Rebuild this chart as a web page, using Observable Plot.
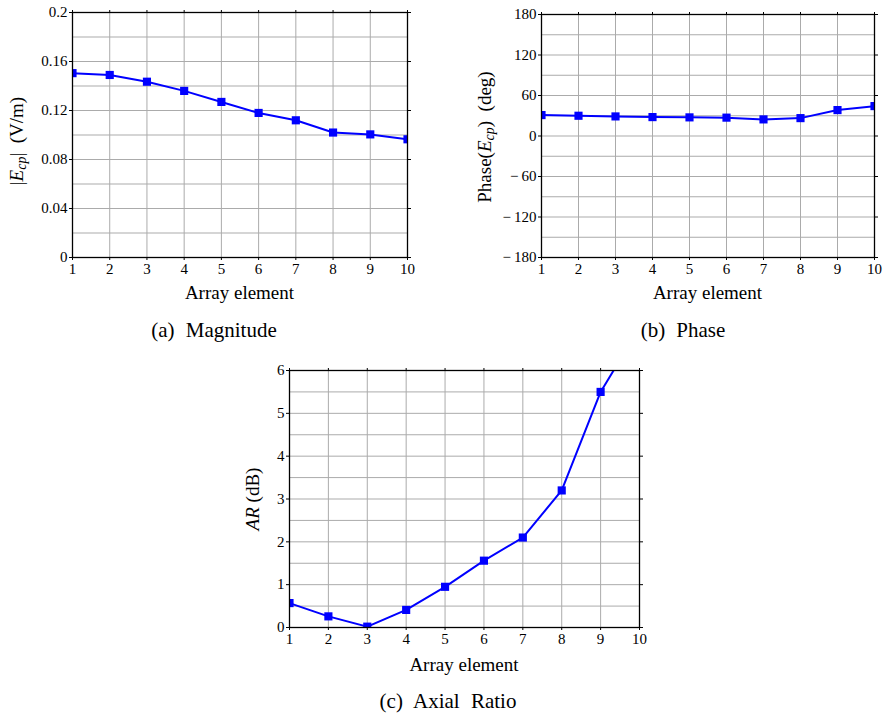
<!DOCTYPE html>
<html>
<head>
<meta charset="utf-8">
<script src="https://cdn.jsdelivr.net/npm/d3@7"></script>
<script src="https://cdn.jsdelivr.net/npm/@observablehq/plot@0.6"></script>
<style>
  html, body { margin: 0; padding: 0; background: #fff; }
  #fig { position: relative; width: 886px; height: 722px; background: #fff; overflow: hidden; color: #000; }
  .panel { position: absolute; }
  .caption { position: absolute; font-size: 21px; white-space: nowrap; transform: translateX(-50%); word-spacing: 6px; }
</style>
</head>
<body>
<div id="fig"></div>
<script>
// ---- data ----
const elements = [1, 2, 3, 4, 5, 6, 7, 8, 9, 10];
const magnitude = [0.1505, 0.149, 0.1435, 0.136, 0.127, 0.118, 0.112, 0.102, 0.1005, 0.0965];
const phase = [31, 30, 29, 28, 27.6, 27.2, 24.6, 26.5, 38.4, 44.3];
const axialRatio = [0.57, 0.26, 0.02, 0.41, 0.95, 1.56, 2.1, 3.2, 5.5, 7.0];

const xTicks = [1, 2, 3, 4, 5, 6, 7, 8, 9, 10];
const magTicks = [0, 0.04, 0.08, 0.12, 0.16, 0.2];
const magMinor = [0.02, 0.06, 0.1, 0.14, 0.18];
const phaseTicks = [-180, -120, -60, 0, 60, 120, 180];
const phaseMinor = [-150, -90, -30, 30, 90, 150];
const arTicks = [0, 1, 2, 3, 4, 5, 6];
const arMinor = [0.5, 1.5, 2.5, 3.5, 4.5, 5.5];

const captions = ["(a) Magnitude", "(b) Phase", "(c) Axial Ratio"];
const xLabel = "Array element";

const fig = document.getElementById("fig");
const fmt = d => (d < 0 ? "\u2212\u2009" + Math.abs(d) : String(d));
const SERIF = "'Liberation Serif'";

function panel(cfg) {
  const data = elements.map((e, i) => ({x: e, y: cfg.values[i]}));
  const gridColor = "#ababab";
  const p = Plot.plot({
    width: cfg.width,
    height: cfg.height,
    marginTop: cfg.margin[0],
    marginRight: cfg.margin[1],
    marginBottom: cfg.margin[2],
    marginLeft: cfg.margin[3],
    style: {fontSize: "15px", background: "white", color: "black"},
    x: {domain: [1, 10]},
    y: {domain: cfg.yDomain},
    marks: [
      Plot.gridX(xTicks, {stroke: gridColor, strokeOpacity: 1, strokeWidth: 1}),
      Plot.gridY(cfg.yTicks.concat(cfg.yMinor), {stroke: gridColor, strokeOpacity: 1, strokeWidth: 1}),
      Plot.axisX(xTicks, {anchor: "bottom", tickSize: 3, tickPadding: 3, label: null, tickFormat: fmt}),
      Plot.axisX(xTicks, {anchor: "top", tickSize: 3, label: null, tickFormat: () => ""}),
      Plot.axisY(cfg.yTicks, {anchor: "left", tickSize: 3, tickPadding: 2, label: null, tickFormat: fmt}),
      Plot.axisY(cfg.yTicks, {anchor: "right", tickSize: 3, label: null, tickFormat: () => ""}),
      Plot.line(data, {x: "x", y: "y", stroke: "#0000ff", strokeWidth: 2, clip: true}),
      Plot.dot(data, {x: "x", y: "y", symbol: "square", r: 4.6, fill: "#0000ff", stroke: "none", clip: true}),
      Plot.frame({stroke: "black", strokeWidth: 1.3})
    ]
  });
  p.classList.add("panel");
  p.style.left = cfg.left + "px";
  p.style.top = cfg.top + "px";
  p.style.fontFamily = SERIF;
  fig.appendChild(p);

  const svg = d3.select(p);
  const ml = cfg.margin[3], mr = cfg.margin[1];
  const cx = ml + (cfg.width - ml - mr) / 2;
  svg.append("text")
    .attr("x", cx).attr("y", cfg.xLabelY)
    .attr("text-anchor", "middle")
    .style("font-size", "19px")
    .text(xLabel);

  const yl = svg.append("text")
    .attr("transform", `translate(${cfg.yLabelPos[0]},${cfg.yLabelPos[1]}) rotate(-90)`)
    .attr("text-anchor", "middle")
    .attr("dominant-baseline", "middle")
    .style("font-size", "19px");
  cfg.yLabel(yl);

  // force the serif family on every text element
  svg.selectAll("text, tspan").style("font-family", SERIF);
  svg.selectAll("g[aria-label$='tick label']").style("font-family", SERIF);

  const cap = document.createElement("div");
  cap.className = "caption";
  cap.style.fontFamily = SERIF;
  cap.textContent = cfg.caption;
  cap.style.left = cfg.capPos[0] + "px";
  cap.style.top = cfg.capPos[1] + "px";
  fig.appendChild(cap);
}

function ecp(t) {
  t.append("tspan").attr("font-style", "italic").text("E");
  t.append("tspan").attr("font-style", "italic").attr("font-size", "14px").attr("dy", 4).text("cp");
}

panel({
  left: 0, top: 0, width: 420, height: 310, margin: [12, 13, 53, 72],
  values: magnitude, yDomain: [0, 0.2], yTicks: magTicks, yMinor: magMinor,
  xLabelY: 299, yLabelPos: [19, 141],
  yLabel: t => {
    t.append("tspan").text("|");
    ecp(t);
    t.append("tspan").attr("dy", -4).text("|\u2002(V/m)");
  },
  caption: captions[0], capPos: [214, 318]
});

panel({
  left: 460, top: 0, width: 426, height: 310, margin: [14, 12, 53, 81],
  values: phase, yDomain: [-180, 180], yTicks: phaseTicks, yMinor: phaseMinor,
  xLabelY: 299, yLabelPos: [27, 137],
  yLabel: t => {
    t.append("tspan").text("Phase(");
    ecp(t);
    t.append("tspan").attr("dy", -4).text(")\u2002(deg)");
  },
  caption: captions[1], capPos: [683, 318]
});

panel({
  left: 230, top: 355, width: 430, height: 320, margin: [15, 21, 48, 59],
  values: axialRatio, yDomain: [0, 6], yTicks: arTicks, yMinor: arMinor,
  xLabelY: 316, yLabelPos: [25, 144],
  yLabel: t => {
    t.append("tspan").attr("font-style", "italic").text("AR");
    t.append("tspan").text(" (dB)");
  },
  caption: captions[2], capPos: [448, 689]
});
</script>
</body>
</html>
